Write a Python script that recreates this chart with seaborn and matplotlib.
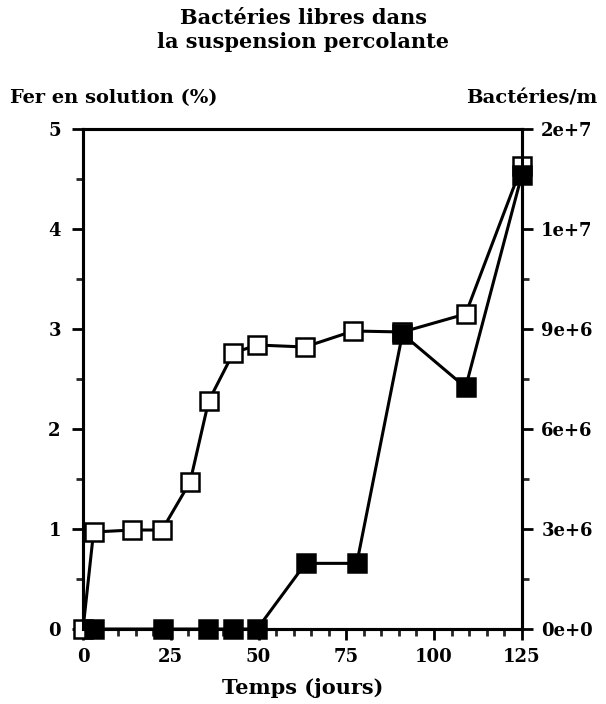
import matplotlib
matplotlib.use("Agg")
import matplotlib.pyplot as plt
import seaborn as sns
import pandas as pd
from matplotlib.ticker import MultipleLocator

# Dissolved iron (% of total), left axis
fer_jours = [0, 3, 14, 22.5, 30.5, 35.8, 42.8, 49.6, 63.2, 77, 91, 109, 125]
fer_pct = [0, 0.97, 0.99, 0.99, 1.47, 2.28, 2.76, 2.84, 2.82, 2.98, 2.97, 3.15, 4.63]

# Free bacteria in the percolating suspension (cells/ml), right axis
bact_jours = [3, 22.7, 35.7, 42.8, 49.6, 63.4, 78, 91, 109, 125]
bact_ml = [0, 0, 0, 0, 0, 1.97e6, 1.97e6, 8.85e6, 7.25e6, 1.362e7]

x_ticks = [0, 25, 50, 75, 100, 125]
left_ticks = [0, 1, 2, 3, 4, 5]
right_ticks = [0, 3e6, 6e6, 9e6, 1.2e7, 1.5e7]
right_labels = ["0e+0", "3e+6", "6e+6", "9e+6", "1e+7", "2e+7"]

sns.set_theme(style="white")
plt.rcParams["font.family"] = ["DejaVu Serif"]
plt.rcParams["font.weight"] = "bold"
plt.rcParams["text.color"] = "black"

fig = plt.figure(figsize=(6.06, 7.04), dpi=100)
ax = fig.add_axes([0.137, 0.1065, 0.724, 0.7103])
ax2 = ax.twinx()

lw = 2.2
ms = 12.5
mew = 1.8

df_fer = pd.DataFrame({"jours": fer_jours, "fer": fer_pct})
df_bact = pd.DataFrame({"jours": bact_jours, "bact": bact_ml})

sns.lineplot(data=df_fer, x="jours", y="fer", ax=ax, color="black", linewidth=lw,
             marker="s", markersize=ms, markerfacecolor="white",
             markeredgecolor="black", markeredgewidth=mew, clip_on=False, zorder=3)
sns.lineplot(data=df_bact, x="jours", y="bact", ax=ax2, color="black", linewidth=lw,
             marker="s", markersize=ms, markerfacecolor="black",
             markeredgecolor="black", markeredgewidth=mew, clip_on=False, zorder=3)

ax.set_xlim(0, 125)
ax.set_ylim(0, 5)
ax2.set_ylim(0, 1.5e7)

ax.set_xticks(x_ticks)
ax.set_xticklabels([str(v) for v in x_ticks])
ax.xaxis.set_minor_locator(MultipleLocator(5))
ax.set_yticks(left_ticks)
ax.set_yticklabels([str(v) for v in left_ticks])
ax.yaxis.set_minor_locator(MultipleLocator(0.5))
ax2.set_yticks(right_ticks)
ax2.set_yticklabels(right_labels)
ax2.yaxis.set_minor_locator(MultipleLocator(1.5e6))

for a in (ax, ax2):
    for s in a.spines.values():
        s.set_visible(True)
        s.set_color("black")
        s.set_linewidth(2.2)
    a.set_xlabel("")
    a.set_ylabel("")

ax.tick_params(axis="x", which="major", direction="out", length=8, width=2,
               labelsize=13, pad=6, bottom=True, colors="black")
ax.tick_params(axis="x", which="minor", direction="out", length=5, width=2, bottom=True)
ax.tick_params(axis="y", which="major", direction="out", length=8, width=2,
               labelsize=13, pad=8, left=True, colors="black")
ax.tick_params(axis="y", which="minor", direction="out", length=5, width=2, left=True)
ax2.tick_params(axis="y", which="major", direction="out", length=8, width=2,
                labelsize=13, pad=6, right=True, colors="black")
ax2.tick_params(axis="y", which="minor", direction="out", length=5, width=2, right=True)

for lab in ax.get_xticklabels() + ax.get_yticklabels() + ax2.get_yticklabels():
    lab.set_fontweight("bold")

fig.text(0.5, 0.988, "Bactéries libres dans\nla suspension percolante",
         ha="center", va="top", fontsize=15, fontweight="bold", linespacing=1.25)
fig.text(0.017, 0.86, "Fer en solution (%)", ha="left", va="center",
         fontsize=14, fontweight="bold")
fig.text(0.985, 0.86, "Bactéries/m", ha="right", va="center",
         fontsize=14, fontweight="bold")
fig.text(0.5, 0.008, "Temps (jours)", ha="center", va="bottom",
         fontsize=15, fontweight="bold")

fig.savefig("out.png", dpi=100)
